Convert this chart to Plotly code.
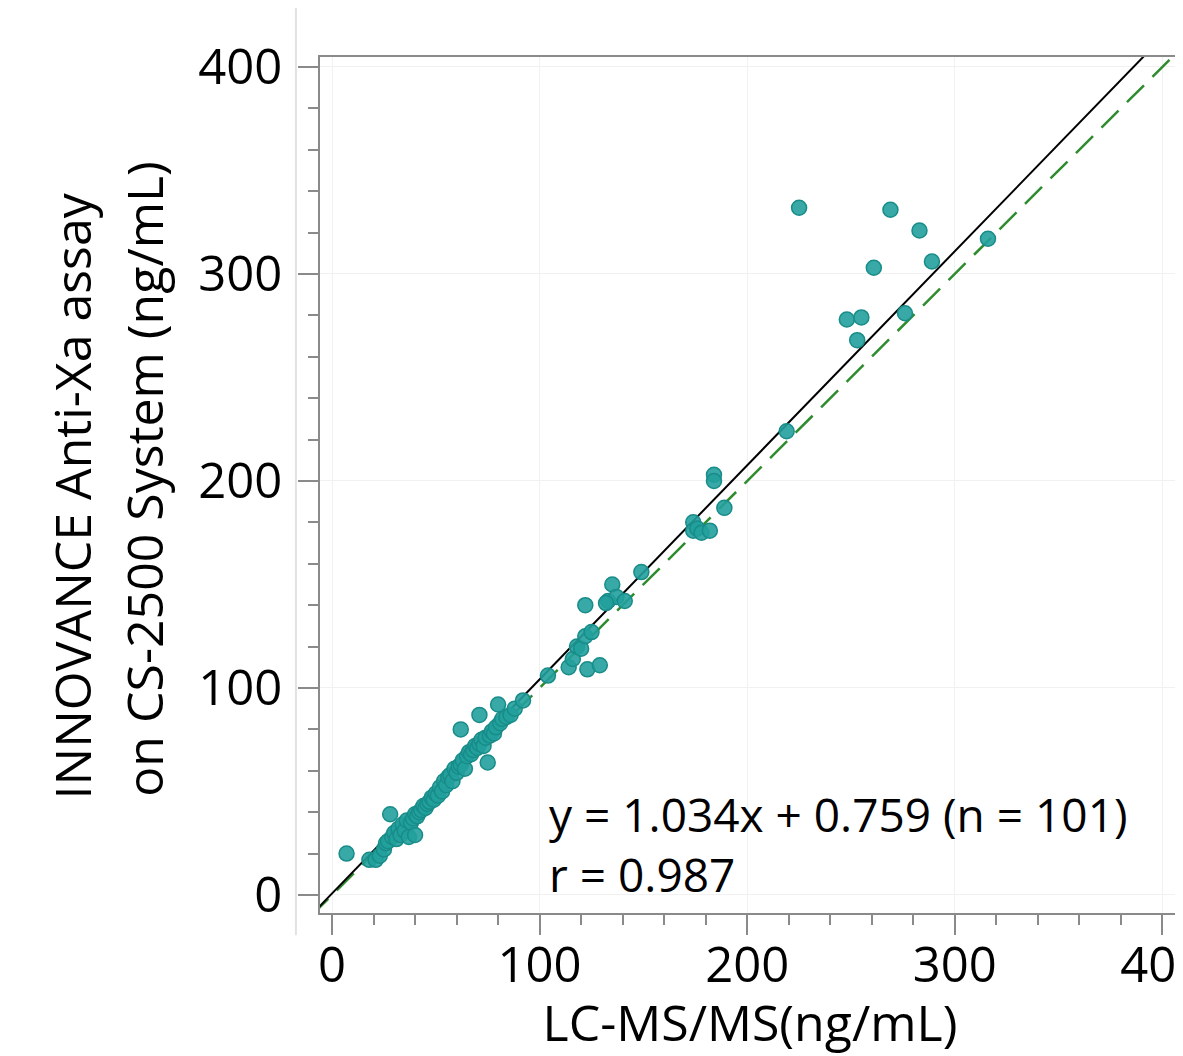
import plotly.graph_objects as go

# LC-MS/MS (x) vs INNOVANCE Anti-Xa on CS-2500 (y), ng/mL
lcms = [
    7, 18, 21, 23, 25, 26, 27, 28, 29, 30, 31, 32, 33, 34, 35, 36, 37, 38, 39, 40,
    40, 41, 42, 43, 44, 45, 46, 47, 48, 49, 50, 51, 52, 53, 54, 55, 56, 57, 58, 59,
    60, 61, 62, 62, 63, 64, 65, 66, 67, 68, 69, 70, 71, 71, 72, 73, 74, 75, 76, 77,
    78, 79, 80, 81, 82, 84, 86, 88, 92,
    104, 114, 116, 118, 120, 122, 123, 125, 129, 122, 133, 135, 137, 141, 132, 149,
    174, 174, 176, 178, 182, 184, 184, 189, 219,
    225, 248, 253, 255, 261, 269, 276, 283, 289, 316,
]
anti_xa = [
    20, 17, 17, 19, 22, 25, 26, 39, 28, 30, 27, 32, 29, 34, 31, 36, 28, 35, 37, 29,
    39, 38, 40, 41, 43, 42, 44, 45, 47, 46, 49, 48, 52, 50, 55, 53, 57, 58, 55, 61,
    59, 62, 80, 63, 65, 61, 67, 69, 68, 70, 72, 71, 87, 73, 75, 72, 76, 64, 77, 79,
    78, 81, 92, 83, 85, 86, 87, 90, 94,
    106, 110, 114, 120, 119, 125, 109, 127, 111, 140, 142, 150, 144, 142, 141, 156,
    180, 176, 177, 175, 176, 203, 200, 187, 224,
    332, 278, 268, 279, 303, 331, 281, 321, 306, 317,
]

fit_slope = 1.034
fit_intercept = 0.759
line_x = [-10, 410]

axis_ticks = [0, 100, 200, 300, 400]
x_title = "LC-MS/MS(ng/mL)"
y_title_lines = ["INNOVANCE Anti-Xa assay", "on CS-2500 System (ng/mL)"]
stats_text = "y = 1.034x + 0.759 (n = 101)<br>r = 0.987"

FONT = "Open Sans, Noto Sans, sans-serif"
AXIS_GREY = "#8a8a8a"

fig = go.Figure()

fig.add_trace(go.Scatter(
    x=line_x, y=line_x,
    mode="lines",
    line={"color": "#2e8b2e", "width": 2.5, "dash": "24px,12px"},
    showlegend=False, hoverinfo="skip",
))
fig.add_trace(go.Scatter(
    x=line_x, y=[fit_slope * v + fit_intercept for v in line_x],
    mode="lines",
    line={"color": "black", "width": 2},
    showlegend=False, hoverinfo="skip",
))
fig.add_trace(go.Scatter(
    x=lcms, y=anti_xa,
    mode="markers",
    marker={"size": 15, "color": "rgba(34,160,156,0.9)",
            "line": {"color": "rgb(24,140,137)", "width": 1.5}},
    showlegend=False,
))

axis_common = dict(
    tickvals=axis_ticks,
    showline=True, linecolor=AXIS_GREY, linewidth=2, mirror=True,
    ticks="outside", ticklen=20, tickwidth=2, tickcolor=AXIS_GREY,
    minor={"dtick": 20, "ticks": "outside", "ticklen": 10,
           "tickwidth": 2, "tickcolor": AXIS_GREY, "showgrid": False},
    showgrid=True, gridcolor="#f1f1f1", gridwidth=1,
    zeroline=False,
    tickfont={"family": FONT, "size": 49, "color": "black"},
    ticklabeloverflow="allow",
    automargin=False,
)

fig.update_xaxes(
    range=[-5.8, 408.5],
    ticklabelstandoff=-12,
    title={"text": x_title, "font": {"family": FONT, "size": 50, "color": "black"},
           "standoff": 6},
    **axis_common,
)
fig.update_yaxes(range=[-8.7, 404.8], ticklabelstandoff=6, **axis_common)

# two-line y title, placed line by line like the reference
for text, xp, yp in zip(y_title_lines, [-0.288, -0.205], [0.487, 0.507]):
    fig.add_annotation(
        text=text, textangle=-90,
        xref="paper", yref="paper", x=xp, y=yp,
        xanchor="center", yanchor="middle",
        showarrow=False,
        font={"family": FONT, "size": 50, "color": "black"},
    )

fig.add_annotation(
    text=stats_text,
    xref="x", yref="y", x=103.6, y=-6,
    xanchor="left", yanchor="bottom", align="left",
    showarrow=False,
    font={"family": FONT, "size": 46, "color": "black"},
)

# faint frame line left of the axis, as in the source picture
fig.add_shape(
    type="line", xref="paper", yref="paper",
    x0=-0.028, x1=-0.028, y0=-0.026, y1=1.07,
    line={"color": "#e2e2e2", "width": 2},
)

fig.update_layout(
    width=1175, height=1048,
    margin={"l": 312, "r": 3, "t": 49, "b": 143, "autoexpand": False},
    plot_bgcolor="white", paper_bgcolor="white",
    font={"family": FONT},
)

fig.write_html("out.html")
